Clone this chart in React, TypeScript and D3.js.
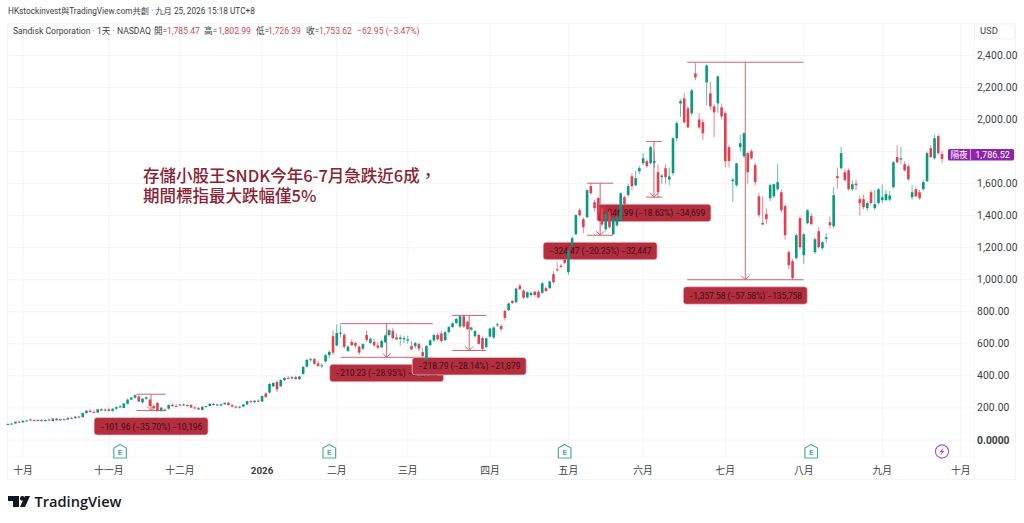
import React from "react";
import * as d3 from "d3";

type Bar = number[]; // open, high, low, close

const barsSepOct: Bar[] = [
  [100,103,97,100],[100,106,98,102],[103,116,102,114],[114,120,108,110],[110,122,108,120],[120,125,116,122],[128,134,118,122],
  [124,130,118,120],[120,128,116,125],[125,130,115,118],[118,128,114,125],[128,134,120,122],[118,136,116,134],[134,138,120,123],
  [123,132,120,130],[130,134,124,128],[128,140,126,138],[138,144,134,136],[136,148,134,146],[146,152,140,144],[143,172,140,168],
  [168,186,165,183],[183,192,172,175],[175,186,170,172],[172,195,168,192],[192,198,180,184],[184,196,178,190],
];
const barsNov: Bar[] = [
  [192,202,178,182],[182,198,176,195],[195,210,188,205],[205,218,198,210],[200,232,198,228],[226,258,222,252],[252,268,248,264],
  [264,284,258,280],[272,278,238,240],[235,262,228,258],[258,272,250,268],[252,258,205,212],[212,222,190,198],[232,238,178,182],
  [182,206,178,202],[190,196,184,188],[195,222,190,218],[218,228,206,212],[212,224,206,210],
];
const barsDec: Bar[] = [
  [218,226,210,222],[222,228,212,215],[215,222,208,218],[218,224,200,203],[203,212,195,198],[198,206,188,190],[188,210,186,207],
  [207,215,204,212],[212,228,210,226],[226,232,215,218],[218,226,212,222],[215,225,212,223],[223,235,220,232],[232,238,215,218],
  [218,224,205,208],[208,214,198,202],[202,212,195,208],[208,225,205,222],[222,245,220,242],[242,250,232,236],[236,248,232,245],
  [245,255,238,240],
];
const barsJan: Bar[] = [
  [240,278,238,274],[290,298,262,268],[296,355,290,350],[335,362,330,356],[362,372,300,316],[335,380,332,374],[374,392,368,388],
  [388,398,378,384],[384,398,378,392],[392,402,376,380],[380,400,374,396],[412,462,408,456],[458,505,452,500],[500,512,490,504],
  [505,514,468,476],[478,492,456,462],[462,480,448,466],[490,536,484,530],[530,560,512,550],[648,684,530,545],
];
const barsFeb: Bar[] = [
  [590,720,585,668],[665,720,640,670],[655,668,570,582],[556,592,548,582],[612,628,585,592],[605,614,572,588],[582,592,530,545],
  [570,604,560,598],[655,684,612,625],[606,640,598,632],[612,630,584,590],[590,612,568,576],[578,626,575,618],[610,660,604,652],
  [655,695,645,685],[682,700,630,636],[640,662,622,628],[630,655,590,640],[628,650,605,636],
];
const barsMar: Bar[] = [
  [620,650,600,628],[586,618,562,565],[585,612,570,605],[598,608,555,570],[548,575,515,524],[500,592,498,586],[592,628,585,622],
  [622,662,612,655],[655,668,620,628],[665,684,610,618],[623,680,618,673],[673,712,665,705],[705,735,700,728],[730,762,724,755],
  [708,778,700,772],[772,778,700,708],[738,745,685,692],[690,708,680,702],[648,685,640,680],[655,665,595,600],[636,645,562,568],
  [580,640,575,634],
];
const barsApr: Bar[] = [
  [645,700,640,695],[640,708,630,702],[718,732,705,722],[712,722,680,692],[805,815,745,762],[810,858,805,852],[868,872,848,855],
  [860,952,855,945],[962,975,935,942],[932,942,880,888],[890,928,882,922],[905,925,895,918],[925,932,895,905],[925,935,885,890],
  [918,985,912,978],[948,958,925,930],[948,995,940,990],[1035,1055,975,985],[1065,1110,1050,1060],[1088,1100,1075,1080],[1125,1145,1095,1105],
];
const barsMay: Bar[] = [
  [1047,1195,1030,1185],[1215,1270,1200,1260],[1284,1410,1280,1403],[1434,1445,1395,1403],[1378,1390,1290,1328],[1390,1565,1385,1559],
  [1584,1600,1530,1540],[1484,1500,1425,1447],[1509,1520,1400,1415],[1445,1465,1330,1345],[1315,1425,1300,1415],[1422,1440,1320,1328],
  [1284,1390,1280,1384],[1340,1400,1330,1390],[1372,1545,1365,1540],[1515,1525,1465,1471],[1528,1600,1520,1584],[1646,1665,1560,1584],
  [1590,1680,1585,1634],[1677,1710,1660,1696],
];
const barsJun: Bar[] = [
  [1727,1790,1715,1758],[1740,1750,1700,1709],[1727,1835,1720,1827],[1730,1800,1700,1740],[1671,1720,1510,1546],[1640,1660,1600,1650],
  [1696,1720,1600,1640],[1625,1700,1590,1645],[1665,1890,1650,1883],[1883,1990,1865,1977],[2100,2125,2015,2115],[2132,2165,1975,1983],
  [2070,2085,1945,1951],[2039,2190,2025,2182],[2288,2356,2245,2263],[2000,2040,1940,1951],[1983,2000,1870,1914],[2232,2345,2089,2338],
  [2163,2235,2060,2082],[2082,2095,1889,2045],[2101,2275,2040,2269],[2076,2100,2000,2020],
];
const barsJul: Bar[] = [
  [2039,2050,1700,1740],[1827,1840,1700,1740],[1615,1635,1484,1625],[1590,1730,1580,1727],[1827,1905,1800,1852],[1771,1920,1760,1914],
  [1790,1800,1600,1671],[1802,1815,1750,1758],[1715,1730,1590,1609],[1521,1540,1390,1403],[1355,1520,1340,1345],[1409,1445,1350,1378],
  [1509,1600,1490,1590],[1521,1600,1510,1596],[1565,1720,1555,1609],[1546,1565,1420,1434],[1459,1470,1250,1278],[1172,1185,1065,1091],
  [1116,1130,1000,1010],[1135,1290,1125,1278],[1384,1395,1190,1203],
];
const barsAug: Bar[] = [
  [1153,1290,1100,1284],[1353,1440,1345,1434],[1397,1415,1340,1347],[1172,1265,1160,1253],[1303,1330,1195,1203],[1197,1240,1185,1234],
  [1255,1290,1230,1265],[1359,1395,1320,1340],[1334,1580,1320,1528],[1646,1700,1570,1634],[1696,1830,1690,1790],[1671,1690,1615,1621],
  [1683,1695,1555,1565],[1565,1620,1555,1596],[1600,1625,1560,1590],[1503,1525,1400,1478],[1503,1530,1440,1453],[1447,1490,1430,1478],
  [1546,1560,1470,1478],[1447,1560,1435,1472],[1478,1570,1470,1565],
];
const barsSep: Bar[] = [
  [1497,1595,1480,1515],[1497,1560,1490,1535],[1500,1555,1490,1525],[1577,1740,1570,1733],[1765,1840,1725,1733],[1750,1830,1720,1758],
  [1721,1740,1675,1683],[1708,1720,1620,1627],[1515,1590,1500,1546],[1565,1580,1515,1521],[1546,1560,1500,1509],[1565,1625,1555,1609],
  [1615,1800,1610,1790],[1821,1840,1760,1765],[1758,1905,1750,1883],[1896,1905,1780,1790],[1785,1803,1726,1753],
];

const monthLabels = ["十月","十一月","十二月","2026","二月","三月","四月","五月","六月","七月","八月","九月","十月"];
const monthBars = [4,27,46,68,88,107,129,150,170,192,213,234,255];
const priceTicks = [200,400,600,800,1000,1200,1400,1600,1800,2000,2200,2400];
const priceLabels = [200,400,600,800,1000,1200,1400,1600,2000,2200,2400];

const measureFrom = [34.4,89,118.9,155,170.8,181.8];
const measureTo = [42.2,113.7,128,162,175,212.9];
const measureTop = [285.6,726.2,777.5,1602.4,1862.5,2357.6];
const measureChange = [-101.96,-210.23,-218.79,-324.47,-346.99,-1357.58];
const measureText = [
  "−101.96 (−35.70%) −10,196",
  "−210.23 (−28.95%) −21,023",
  "−218.79 (−28.14%) −21,879",
  "−324.47 (−20.25%) −32,447",
  "−346.99 (−18.63%) −34,699",
  "−1,357.58 (−57.58%) −135,758",
];
const measureWidth = [114,114,114,114,114,124];

const earningsBars = [30,86,149,215];
const dividendBar = 250;

const CJK = "'Noto Sans CJK TC'";
const FONT = `Roboto,${CJK},sans-serif`;
const UP = "#089981";
const DOWN = "#e23f50";
const GRID = "#f3f4f6";
const TEXT = "#3a3d46";
const RED = "#cf4a57";
const MEASURE = "#cc6470";

export default function App() {
  const bars = [barsSepOct,barsNov,barsDec,barsJan,barsFeb,barsMar,barsApr,barsMay,barsJun,barsJul,barsAug,barsSep].flat();
  const x = d3.scaleLinear().domain([0,250]).range([8,942]);
  const y = d3.scaleLinear().domain([0,2400]).range([440,55.4]);
  const fmt = d3.format(",.2f");
  const HEAD = 8.6;
  return (
    <svg width={1024} height={523} style={{position:"absolute",left:0,top:0,display:"block",background:"#fff"}} fontFamily={FONT} lang="zh-Hant">
      <rect x={7.5} y={23.5} width={1008} height={456} fill="none" stroke={GRID}/>
      <line x1={974.5} x2={974.5} y1={23} y2={480} stroke="#f7f7f8"/>
      <line x1={7.5} x2={974} y1={456.5} y2={456.5} stroke="#fafafa"/>
      {priceTicks.concat([0]).map(t=>(<line key={t} x1={8} x2={974} y1={y(t)} y2={y(t)} stroke={GRID}/>))}
      {monthBars.map((b,i)=>(<line key={i} x1={x(b)} x2={x(b)} y1={24} y2={458} stroke={GRID}/>))}

      <text x={8} y={13.5} fontSize={8.25} fill={TEXT}>HKstockinvest與TradingView.com共創 · 九月 25, 2026 15:18 UTC+8</text>
      <text x={13} y={33.5} fontSize={HEAD} fill={TEXT}>Sandisk Corporation · 1天 · NASDAQ</text>
      <text x={154} y={33.5} fontSize={HEAD} fill={TEXT}>開=</text>
      <text x={167} y={33.5} fontSize={HEAD} fill={RED}>1,785.47</text>
      <text x={204} y={33.5} fontSize={HEAD} fill={TEXT}>高=</text>
      <text x={218} y={33.5} fontSize={HEAD} fill={RED}>1,802.99</text>
      <text x={256} y={33.5} fontSize={HEAD} fill={TEXT}>低=</text>
      <text x={268} y={33.5} fontSize={HEAD} fill={RED}>1,726.39</text>
      <text x={306} y={33.5} fontSize={HEAD} fill={TEXT}>收=</text>
      <text x={319} y={33.5} fontSize={HEAD} fill={RED}>1,753.62</text>
      <text x={357} y={33.5} fontSize={HEAD} fill={RED}>−62.95 (−3.47%)</text>

      {measureFrom.map((f,i)=>{
        const x0=x(f),x1=x(measureTo[i]),xm=(x0+x1)/2;
        const yt=y(measureTop[i]),yb=y(measureTop[i]+measureChange[i]);
        return (
          <g key={i}>
            <line x1={x0} x2={x1} y1={yt} y2={yt} stroke={MEASURE} strokeWidth={1}/>
            <line x1={x0} x2={x1} y1={yb} y2={yb} stroke={MEASURE} strokeWidth={1}/>
            <line x1={xm} x2={xm} y1={yt} y2={yb} stroke={MEASURE} strokeWidth={1}/>
            <path d={`M${xm-4} ${yb-4}L${xm} ${yb}L${xm+4} ${yb-4}`} fill="none" stroke={MEASURE}/>
          </g>
        );
      })}
      {measureFrom.map((f,i)=>{
        const xm=(x(f)+x(measureTo[i]))/2;
        const yb=y(measureTop[i]+measureChange[i]);
        const w=measureWidth[i];
        return (
          <g key={i}>
            <rect x={xm-w/2} y={yb+7} width={w} height={17.5} rx={3} fill="#b32e3e" stroke="#f7c9cd" strokeOpacity={0.7}/>
            <text x={xm} y={yb+19} fontSize={8.4} fill="#3a0d12" textAnchor="middle">{measureText[i]}</text>
          </g>
        );
      })}

      {bars.map((d,i)=>{
        const [o,h,l,c]=d;
        const col=c>=o?UP:DOWN;
        const top=y(Math.max(o,c)),bot=y(Math.min(o,c));
        return (
          <g key={i}>
            <line x1={x(i)} x2={x(i)} y1={y(h)} y2={y(l)} stroke={col} strokeOpacity={0.7} strokeWidth={0.9}/>
            <rect x={x(i)-1.3} y={top} width={2.6} height={Math.max(bot-top,1)} fill={col}/>
          </g>
        );
      })}

      <text x={143} y={181.5} fontSize={16.5} fontWeight={500} fill="#8a2231" fontFamily={CJK}>存儲小股王SNDK今年6-7月急跌近6成，</text>
      <text x={143} y={202} fontSize={16.5} fontWeight={500} fill="#8a2231" fontFamily={CJK}>期間標指最大跌幅僅5%</text>

      {earningsBars.map((b,i)=>{
        const cx=x(b);
        return (
          <g key={i}>
            <path d={`M${cx} 444.5L${cx+6.3} 448V458H${cx-6.3}V448Z`} fill="#fff" stroke="#4fae9f" strokeWidth={1.2}/>
            <text x={cx} y={455} fontSize={8} fontWeight={700} textAnchor="middle" fill="#4fae9f">E</text>
          </g>
        );
      })}
      <g>
        <circle cx={x(dividendBar)} cy={451.5} r={6.6} fill="#fff" stroke="#a659c4" strokeWidth={1.2}/>
        <path d={`M${x(dividendBar)+1.8} 447.3L${x(dividendBar)-2.6} 452.2H${x(dividendBar)-0.2}L${x(dividendBar)-1.8} 455.8L${x(dividendBar)+2.6} 450.8H${x(dividendBar)+0.2}Z`} fill="#a659c4"/>
      </g>

      {monthLabels.map((m,i)=>(
        <text key={i} x={x(monthBars[i])} y={473.5} fontSize={9.8} textAnchor="middle" fill={TEXT} fontWeight={m==="2026"?700:400}>{m}</text>
      ))}

      <rect x={974.5} y={24} width={40} height={15} rx={3} fill="#fff" stroke="#f3f4f6"/>
      <text x={980} y={34} fontSize={9.4} fill={TEXT}>USD</text>
      {priceLabels.map(t=>(<text key={t} x={977} y={y(t)+3.5} fontSize={10.3} letterSpacing={0.15} fill={TEXT}>{fmt(t)}</text>))}
      <text x={977} y={y(0)+3.5} fontSize={10.3} fontWeight={700} fill={TEXT}>0.0000</text>

      <rect x={948} y={149} width={66} height={11.5} rx={1.5} fill="#8e24aa"/>
      <line x1={970.5} x2={970.5} y1={149} y2={160.5} stroke="#fff" strokeOpacity={0.6}/>
      <text x={959} y={158} fontSize={8.6} fill="#fff" textAnchor="middle">隔夜</text>
      <text x={992.5} y={158.2} fontSize={9} fill="#fff" textAnchor="middle">1,786.52</text>

      <path d="M8 496H19V507H13V501H8Z" fill="#131722"/>
      <circle cx={22.3} cy={498.4} r={2.4} fill="#131722"/>
      <path d="M25 496H30L25 507H20Z" fill="#131722"/>
      <text x={34.5} y={507} fontSize={14.6} fontWeight={600} fill="#131722" fontFamily="'Open Sans',sans-serif">TradingView</text>
    </svg>
  );
}
